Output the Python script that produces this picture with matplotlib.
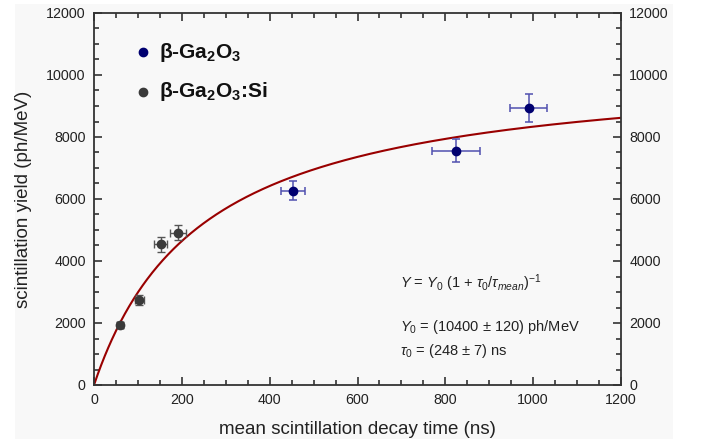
import numpy as np
import matplotlib
matplotlib.use("Agg")
import matplotlib.pyplot as plt
from matplotlib.patches import Rectangle
from matplotlib.ticker import MultipleLocator

plt.rcParams['font.family'] = ['Liberation Sans', 'DejaVu Sans']
plt.rcParams['mathtext.fontset'] = 'custom'
plt.rcParams['mathtext.rm'] = 'Liberation Sans'
plt.rcParams['mathtext.it'] = 'Liberation Sans:italic'
plt.rcParams['mathtext.bf'] = 'Liberation Sans:bold'

# data: beta-Ga2O3
ga_t = [453, 824, 990]
ga_terr = [28, 55, 42]
ga_y = [6270, 7560, 8930]
ga_yerr = [315, 380, 450]

# data: beta-Ga2O3:Si
si_t = [60, 103, 152, 191]
si_terr = [7, 10, 15, 18]
si_y = [1930, 2740, 4540, 4910]
si_yerr = [90, 150, 235, 245]

# fit parameters
Y0 = 10400
tau0 = 248

fig = plt.figure(figsize=(7.02, 4.43), dpi=100)
fig.patch.set_facecolor('white')
bg = Rectangle((15/702, 4/443), (673-15)/702, (439-4)/443, transform=fig.transFigure,
               facecolor='#f8f8f8', edgecolor='none', zorder=-10)
fig.patches.append(bg)

ax = fig.add_axes([94/702, 1-385/443, (621-94)/702, (385-13)/443])
ax.set_facecolor('#f8f8f8')

t = np.linspace(0.5, 1200, 600)
ax.plot(np.concatenate([[0], t]), np.concatenate([[0], Y0/(1+tau0/t)]),
        color='#990000', lw=1.5, zorder=2)

ax.errorbar(si_t, si_y, xerr=si_terr, yerr=si_yerr, fmt='o', ms=6,
            color='#3a3a3a', ecolor='#555555', elinewidth=1, capsize=3, capthick=1, zorder=3)
ax.errorbar(ga_t, ga_y, xerr=ga_terr, yerr=ga_yerr, fmt='o', ms=6,
            color='#000070', ecolor='#5050b0', elinewidth=1.1, capsize=3, capthick=1.1, zorder=3)

ax.set_xlim(0, 1200)
ax.set_ylim(0, 12000)
ax.xaxis.set_major_locator(MultipleLocator(200))
ax.xaxis.set_minor_locator(MultipleLocator(50))
ax.yaxis.set_major_locator(MultipleLocator(2000))
ax.yaxis.set_minor_locator(MultipleLocator(500))
ax.tick_params(which='both', direction='in', top=True, right=True, labelright=True,
               labelsize=10.3, colors='#222222', pad=6)
ax.tick_params(which='major', length=6, width=1.1)
ax.tick_params(which='minor', length=3.5, width=1.1)
for s in ax.spines.values():
    s.set_color('#333333')
    s.set_linewidth(1.3)

ax.set_xlabel('mean scintillation decay time (ns)', fontsize=13.5, color='#222222', labelpad=10)
ax.set_ylabel('scintillation yield (ph/MeV)', fontsize=13.5, color='#222222', labelpad=10)

# legend
ax.plot([0.093], [0.895], 'o', ms=6, color='#000070', transform=ax.transAxes, clip_on=False)
ax.plot([0.093], [0.788], 'o', ms=6, color='#3a3a3a', transform=ax.transAxes, clip_on=False)
ax.text(0.123, 0.895, r'β-Ga$_\mathbf{2}$O$_\mathbf{3}$', transform=ax.transAxes,
        fontsize=15, fontweight='bold', va='center', ha='left', color='#111111')
ax.text(0.123, 0.788, r'β-Ga$_\mathbf{2}$O$_\mathbf{3}$:Si', transform=ax.transAxes,
        fontsize=15, fontweight='bold', va='center', ha='left', color='#111111')

# fit annotation
ax.text(0.581, 0.274, r'$Y$ = $Y_{\mathrm{0}}$ (1 + $\tau_{\mathrm{0}}/\tau_{mean}$)$^{\mathrm{-1}}$',
        transform=ax.transAxes, fontsize=10.5, va='center', ha='left', color='#222222')
ax.text(0.581, 0.156, r'$Y_{\mathrm{0}}$ = (10400 ± 120) ph/MeV',
        transform=ax.transAxes, fontsize=10.5, va='center', ha='left', color='#222222')
ax.text(0.581, 0.091, r'$\tau_{\mathrm{0}}$ = (248 ± 7) ns',
        transform=ax.transAxes, fontsize=10.5, va='center', ha='left', color='#222222')

fig.savefig('out.png', dpi=100, facecolor=fig.get_facecolor())
